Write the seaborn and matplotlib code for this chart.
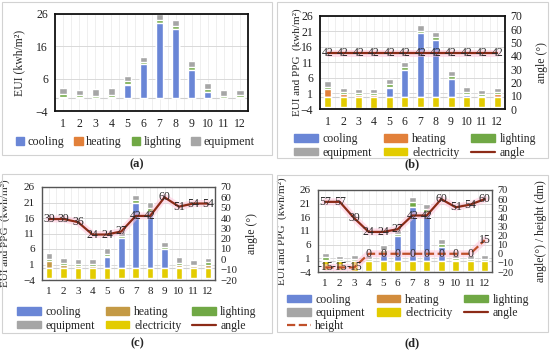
import numpy as np
import matplotlib
matplotlib.use('Agg')
import matplotlib.pyplot as plt
import seaborn as sns
from matplotlib.patches import Patch, Rectangle
from matplotlib.lines import Line2D

sns.set_theme(style='white')
plt.rcParams['font.family'] = ['Liberation Serif', 'DejaVu Serif']

# DATOS
months = ['1', '2', '3', '4', '5', '6', '7', '8', '9', '10', '11', '12']

cooling_a = [0, 0, 0, 0, 4.0, 10.4, 23.1, 21.4, 8.8, 1.9, 0, 0]
heating_a = [0.3, 0.2, 0.1, 0.2, 0.5, 0, 0, 0, 0, 0, 0.1, 0.2]
lighting_a = [0.9, 0.6, 0.6, 0.9, 0.7, 0.8, 0.9, 0.8, 0.9, 0.8, 0.6, 0.6]
equipment_a = [2.0, 1.6, 2.1, 2.0, 1.7, 1.6, 1.9, 1.8, 1.8, 1.9, 1.7, 1.6]

cooling_b = [0, 0, 0, 0, 2.9, 8.5, 20.4, 18.3, 5.8, 0.4, 0, 0]
heating_b = [2.4, 0.8, 0.4, 0.4, 0.3, 0, 0, 0, 0, 0.3, 0.3, 0.8]
lighting_b = [0.6, 0.6, 0.6, 0.6, 0.8, 0.9, 0.9, 0.8, 0.8, 0.7, 0.6, 0.6]
equipment_b = [2.0, 1.4, 1.5, 1.4, 1.6, 1.9, 1.9, 1.8, 1.8, 1.7, 1.3, 1.4]
electricity_b = [-3.4, -3.5, -3.6, -3.7, -3.6, -3.4, -3.3, -3.4, -3.4, -3.5, -3.5, -3.4]
angle_b = [42, 42, 42, 42, 42, 42, 42, 42, 42, 42, 42, 42]

cooling_c = [0, 0, 0, 0, 3.4, 9.5, 20.8, 17.8, 5.9, 0.3, 0, 0]
heating_c = [2.0, 0.9, 0.5, 0.5, 0.3, 0, 0, 0, 0, 0.4, 0.4, 1.0]
lighting_c = [0.8, 0.6, 0.6, 0.6, 0.8, 0.8, 0.9, 1.5, 0.8, 0.8, 0.6, 0.7]
equipment_c = [2.0, 1.5, 1.6, 1.6, 1.7, 1.7, 1.8, 1.9, 1.7, 1.9, 1.4, 1.5]
electricity_c = [-3.3, -3.4, -3.6, -3.8, -3.6, -3.5, -3.4, -3.5, -3.3, -3.6, -3.5, -3.4]
angle_c = [39, 39, 36, 24, 24, 27, 42, 42, 60, 51, 54, 54]

cooling_d = [0, 0, 0, 0, 2.8, 9.0, 19.9, 17.5, 5.3, 0.3, 0, 0]
heating_d = [0.5, 0.2, 0.2, 0.2, 0.3, 0, 0, 0, 0, 0.2, 0.2, 0.2]
lighting_d = [0.9, 0.6, 0.6, 0.7, 0.9, 0.9, 1.6, 1.6, 0.9, 0.7, 0.6, 0.6]
equipment_d = [1.7, 1.2, 1.4, 1.5, 1.9, 1.8, 2.1, 1.8, 1.9, 1.4, 1.4, 1.6]
electricity_d = [-3.4, -3.4, -3.5, -3.7, -3.6, -3.5, -3.8, -3.5, -3.7, -3.5, -3.5, -3.5]
angle_d = [57, 57, 39, 24, 24, 27, 42, 42, 60, 51, 54, 60]
height_d = [-15, -15, -15, 0, 0, 0, 0, 0, 0, 0, 0, 15]

# COLORES
c_cool = '#6a86d6'
c_heat = '#e2803a'
c_heat_c = '#c49a45'
c_heat_d = '#d28c3c'
c_light = '#70a845'
c_equip = '#a6a6a6'
c_elec = '#e3cc00'
c_angle = '#8c2b17'
c_height = '#c0502a'

W, H = 550, 350
fig = plt.figure(figsize=(5.5, 3.5), dpi=100)


def rect(x0, y0, x1, y1):
    return [x0 / W, 1 - y1 / H, (x1 - x0) / W, (y1 - y0) / H]


# marcos de cada panel
for (x0, y0, x1, y1) in [(2, 2, 272, 155), (277, 2, 548, 158),
                         (2, 174, 272, 333), (277, 175, 548, 332)]:
    fig.add_artist(Rectangle((x0 / W, 1 - y1 / H), (x1 - x0) / W, (y1 - y0) / H,
                             transform=fig.transFigure, fill=False,
                             edgecolor='#d2d2d2', lw=0.8))


def barras(ax, partes, colores, elec=None):
    cum = np.cumsum(np.array(partes), axis=0)
    for k in range(len(partes) - 1, -1, -1):
        sns.barplot(x=months, y=cum[k], color=colores[k], width=0.45,
                    saturation=1, errorbar=None, ax=ax, order=months)
    if elec is not None:
        sns.barplot(x=months, y=elec, color=c_elec, width=0.45,
                    saturation=1, errorbar=None, ax=ax, order=months)


def estilo(ax, yticks, borde, lw, fs):
    ax.set_ylim(-4, 26)
    ax.set_xlim(-0.5, 11.5)
    ax.set_yticks(yticks)
    ax.set_axisbelow(True)
    ax.yaxis.grid(True, color='#d9d9d9', lw=0.7)
    for v in np.arange(-0.5, 12, 0.5):
        ax.axvline(v, color='#ececec', lw=0.6, zorder=0)
    ax.axhline(0, color='#cfcfcf', lw=0.8, zorder=0.5)
    ax.tick_params(length=0, labelsize=fs, pad=5, colors='#222222')
    ax.set_xlabel('')
    for s in ax.spines.values():
        s.set_color(borde)
        s.set_linewidth(lw)


def linea(ax2, valores, color, dashed=False):
    x = np.arange(12)
    ax2.plot(x, valores, color='#ffc6dc', lw=5, alpha=0.55, zorder=1,
             solid_capstyle='round')
    ax2.plot(x, valores, color=color, lw=1.6, ls='--' if dashed else '-', zorder=2)
    for i, v in enumerate(valores):
        ax2.text(i, v, str(v), ha='center', va='center', fontsize=8.5,
                 color='#2a2a2a', zorder=3)


def eje_derecho(ax2, lo, fs):
    ax2.set_ylim(lo, 70)
    ax2.set_yticks(np.arange(lo, 71, 10))
    ax2.tick_params(length=0, labelsize=fs, pad=4, colors='#222222')
    for s in ax2.spines.values():
        s.set_visible(False)
    ax2.grid(False)


# PANEL (a)
ax = fig.add_axes(rect(55, 14, 248, 111))
barras(ax, [cooling_a, heating_a, lighting_a, equipment_a],
       [c_cool, c_heat, c_light, c_equip])
estilo(ax, [-4, 6, 16, 26], '#111111', 1.3, 8.5)
ax.set_ylabel('EUI (kwh/m²)', fontsize=8.5)
ax.yaxis.set_label_coords(-0.155, 0.5)
h_a = [Patch(color=c_cool, label='cooling'), Patch(color=c_heat, label='heating'),
       Patch(color=c_light, label='lighting'), Patch(color=c_equip, label='equipment')]
fig.legend(handles=h_a, loc='center', bbox_to_anchor=(135 / W, 1 - 142 / H), ncol=4,
           frameon=False, fontsize=8.7, handlelength=0.7, handleheight=0.7,
           handletextpad=0.3, columnspacing=0.8)
fig.text(137 / W, 1 - 164 / H, '(a)', ha='center', va='center', fontsize=9, fontweight='bold')

ticks5 = [-4, 1, 6, 11, 16, 21, 26]

# PANEL (b)
ax = fig.add_axes(rect(320, 16, 505, 109))
barras(ax, [cooling_b, heating_b, lighting_b, equipment_b],
       [c_cool, c_heat, c_light, c_equip], electricity_b)
estilo(ax, ticks5, '#111111', 1.3, 8.5)
ax.set_ylabel('EUI and PPG  (kwh/m²)', fontsize=8)
ax.yaxis.set_label_coords(-0.097, 0.5)
ax2 = ax.twinx()
eje_derecho(ax2, 0, 8.5)
linea(ax2, angle_b, c_angle)
ax2.set_ylabel('angle (°)', fontsize=8.5)
ax2.yaxis.set_label_coords(1.165, 0.5)
h_b = [Patch(color=c_cool, label='cooling'), Patch(color=c_equip, label='equipment'),
       Patch(color=c_heat, label='heating'), Patch(color=c_elec, label='electricity'),
       Patch(color=c_light, label='lighting'), Line2D([], [], color=c_angle, lw=1.6, label='angle')]
fig.legend(handles=h_b, loc='center', bbox_to_anchor=(415 / W, 1 - 146 / H), ncol=3,
           frameon=False, fontsize=8.5, handlelength=2.0, handleheight=0.6,
           handletextpad=0.4, columnspacing=1.0, labelspacing=0.15)
fig.text(412 / W, 1 - 164 / H, '(b)', ha='center', va='center', fontsize=9, fontweight='bold')

# PANEL (c)
ax = fig.add_axes(rect(42, 187, 215, 280))
barras(ax, [cooling_c, heating_c, lighting_c, equipment_c],
       [c_cool, c_heat_c, c_light, c_equip], electricity_c)
estilo(ax, ticks5, '#555555', 1.0, 8)
ax.set_ylabel('EUI and PPG  (kwh/m²)', fontsize=8)
ax.yaxis.set_label_coords(-0.185, 0.5)
ax2 = ax.twinx()
eje_derecho(ax2, -20, 7.8)
linea(ax2, angle_c, c_angle)
ax2.set_ylabel('angle (°)', fontsize=8.5)
ax2.yaxis.set_label_coords(1.18, 0.5)
h_c = [Patch(color=c_cool, label='cooling'), Patch(color=c_equip, label='equipment'),
       Patch(color=c_heat_c, label='heating'), Patch(color=c_elec, label='electricity'),
       Patch(color=c_light, label='lighting'), Line2D([], [], color=c_angle, lw=1.6, label='angle')]
fig.legend(handles=h_c, loc='center', bbox_to_anchor=(137 / W, 1 - 319 / H), ncol=3,
           frameon=False, fontsize=8.5, handlelength=2.0, handleheight=0.6,
           handletextpad=0.4, columnspacing=0.9, labelspacing=0.15)
fig.text(137 / W, 1 - 343 / H, '(c)', ha='center', va='center', fontsize=9, fontweight='bold')

# PANEL (d)
ax = fig.add_axes(rect(318, 190, 492, 272))
barras(ax, [cooling_d, heating_d, lighting_d, equipment_d],
       [c_cool, c_heat_d, c_light, c_equip], electricity_d)
estilo(ax, ticks5, '#555555', 1.0, 8)
ax.set_ylabel('EUI and PPG  (kwh/m²)', fontsize=8)
ax.yaxis.set_label_coords(-0.178, 0.5)
ax2 = ax.twinx()
eje_derecho(ax2, -20, 7.5)
linea(ax2, angle_d, c_angle)
linea(ax2, height_d, c_height, dashed=True)
ax2.set_ylabel('angle(°) / height (dm)', fontsize=8.5)
ax2.yaxis.set_label_coords(1.245, 0.5)
h_d = [Patch(color=c_cool, label='cooling'), Patch(color=c_equip, label='equipment'),
       Line2D([], [], color=c_height, lw=1.6, ls='--', label='height'),
       Patch(color=c_heat_d, label='heating'), Patch(color=c_elec, label='electricity'),
       Patch(color=c_light, label='lighting'), Line2D([], [], color=c_angle, lw=1.6, label='angle')]
fig.legend(handles=h_d, loc='center', bbox_to_anchor=(408 / W, 1 - 313 / H), ncol=3,
           frameon=False, fontsize=8.5, handlelength=2.0, handleheight=0.6,
           handletextpad=0.4, columnspacing=1.0, labelspacing=0.1)
fig.text(412 / W, 1 - 343 / H, '(d)', ha='center', va='center', fontsize=9, fontweight='bold')

fig.savefig('out.png', dpi=100)
